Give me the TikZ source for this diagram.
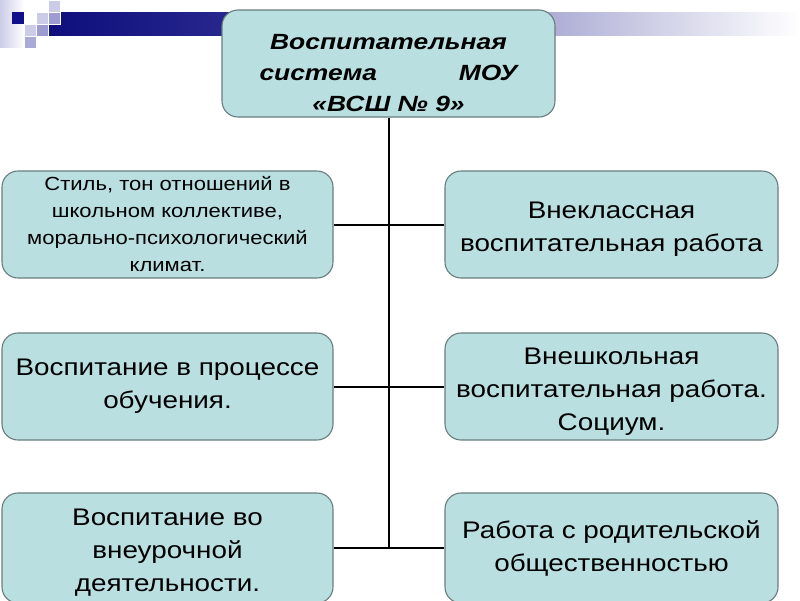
\documentclass[tikz,border=0pt]{standalone}
\usepackage{fontspec}
\setmainfont{Liberation Sans}
\newfontfamily\wideA[FakeStretch=1.16]{Liberation Sans}
\newfontfamily\wideB[FakeStretch=1.2]{Liberation Sans}
\definecolor{boxfill}{RGB}{186,223,225}
\definecolor{boxline}{RGB}{105,125,125}
\definecolor{navyc}{RGB}{14,14,125}
\definecolor{navyd}{RGB}{16,16,138}
\definecolor{lavl}{RGB}{204,204,232}
\definecolor{lavm}{RGB}{156,156,208}
\definecolor{lavn}{RGB}{170,170,216}
\pgfdeclarehorizontalshading{barshade}{100bp}{color(0bp)=(navyc); color(25bp)=(navyc); color(37.5bp)=(rgb,255:red,40;green,40;blue,142); color(58.5bp)=(rgb,255:red,174;green,174;blue,214); color(75bp)=(white); color(100bp)=(white)}
\tikzset{
  box/.style={draw=boxline, line width=1.1pt, fill=boxfill, rounded corners=16pt, align=center, inner sep=0pt, text=black},
  bigtext/.style={font=\wideA\fontsize{24}{33}\selectfont},
  conn/.style={draw=black, line width=2pt},
  sq/.style={draw=white, line width=0.6pt}
}
\begin{document}
\begin{tikzpicture}[x=1pt,y=-1pt]
\useasboundingbox (0,0) rectangle (800,600);
% decoration
\shade[left color=lavl, right color=white] (0,0) rectangle (24,47);
\shade[shading=barshade] (48,12) rectangle (800,35);
\fill[navyd] (12,12) rectangle (24,24);
\filldraw[sq, fill=lavl] (36,12) rectangle (48,24);
\filldraw[sq, fill=lavl] (48,0) rectangle (60,12);
\filldraw[sq, fill=lavm] (48,12) rectangle (60,24);
\filldraw[sq, fill=lavl] (24,24) rectangle (36,36);
\filldraw[sq, fill=lavm] (36,24) rectangle (48,36);
\filldraw[sq, fill=lavn] (24,36) rectangle (36,48);
% boxes
\node[box, minimum width=333pt, minimum height=107pt, font=\wideB\fontsize{22}{31}\selectfont\bfseries\itshape] (top) at (388.5,63.5)
  {\rule{0pt}{35pt}Воспитательная\\\makebox[258pt]{система\hfill МОУ}\\«ВСШ № 9»};
\node[box, minimum width=331pt, minimum height=107pt, font=\wideA\fontsize{19}{27}\selectfont] (l1) at (167.5,224.5)
  {Стиль, тон отношений в\\школьном коллективе,\\морально-психологический\\климат.};
\node[box, bigtext, minimum width=333pt, minimum height=107pt] (r1) at (611.5,224.5)
  {\rule{0pt}{25pt}Внеклассная\\воспитательная работа};
\node[box, bigtext, minimum width=331pt, minimum height=107pt] (l2) at (167.5,386.5)
  {Воспитание в процессе\\обучения.};
\node[box, bigtext, minimum width=333pt, minimum height=107pt] (r2) at (611.5,386.5)
  {\rule{0pt}{26pt}Внешкольная\\воспитательная работа.\\Социум.};
\node[box, bigtext, minimum width=331pt, minimum height=110pt] (l3) at (167.5,548)
  {\rule{0pt}{26pt}Воспитание во\\внеурочной\\деятельности.};
\node[box, bigtext, minimum width=333pt, minimum height=110pt] (r3) at (611.5,548)
  {Работа с родительской\\общественностью};
% connectors
\coordinate (bend) at (389,547);
\draw[conn] (top.south -| bend) -- (bend);
\draw[conn] (l1.east) -- (r1.west);
\draw[conn] (l2.east) -- (r2.west);
\draw[conn] (l3.east) -- (r3.west);
\end{tikzpicture}
\end{document}
